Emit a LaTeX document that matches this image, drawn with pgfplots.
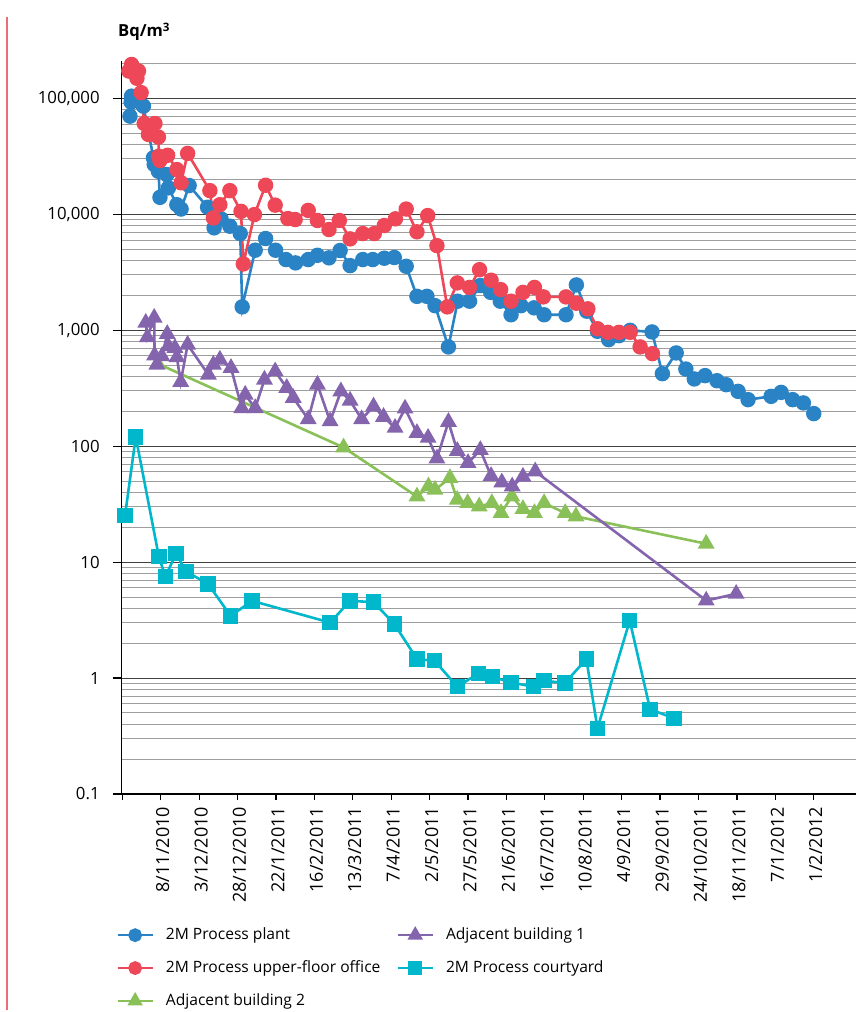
\documentclass[border=0pt]{standalone}
\usepackage{fontspec}
\setmainfont{Open Sans}
\usepackage{pgfplots}
\pgfplotsset{compat=1.18}
\definecolor{cblue}{RGB}{41,131,196}
\definecolor{cred}{RGB}{238,72,88}
\definecolor{cgreen}{RGB}{138,192,88}
\definecolor{cpurple}{RGB}{132,100,172}
\definecolor{ccyan}{RGB}{0,183,204}
\definecolor{cframe}{RGB}{234,110,120}

\pgfplotstableread{
x y
0.20 70200
0.23 92700
0.24 104500
0.55 85700
0.81 30700
0.83 26900
0.94 23500
0.98 14000
1.16 22000
1.20 16900
1.42 12100
1.53 11100
1.74 17700
2.22 11500
2.39 7640
2.57 9140
2.80 7890
3.07 6820
3.12 1590
3.46 4900
3.73 6180
3.99 4900
4.26 4070
4.51 3810
4.84 4070
5.08 4430
5.38 4210
5.67 4870
5.93 3610
6.26 4070
6.52 4070
6.82 4180
7.08 4240
7.39 3560
7.67 1960
7.93 1960
8.14 1630
8.49 718
8.73 1780
9.04 1780
9.32 2430
9.59 2120
9.84 1780
10.12 1360
10.38 1630
10.72 1560
10.98 1360
11.55 1360
11.82 2460
12.09 1460
12.37 979
12.66 830
12.93 898
13.22 998
13.79 967
14.06 422
14.42 637
14.67 463
14.89 380
15.17 406
15.48 367
15.72 339
16.03 297
16.29 252
16.89 269
17.15 291
17.45 252
17.73 236
18.00 191
}\plant

\pgfplotstableread{
x y
0.17 172000
0.24 196000
0.38 149000
0.42 172000
0.49 112000
0.57 60700
0.68 48800
0.85 60700
0.94 46300
0.95 31700
0.98 29100
1.18 32300
1.42 24300
1.53 18700
1.70 33500
2.28 16000
2.37 9310
2.54 12100
2.80 16000
3.09 10600
3.15 3730
3.44 9950
3.73 17800
3.98 12000
4.31 9190
4.50 9010
4.84 10800
5.08 8840
5.38 7390
5.65 8840
5.93 6140
6.26 6820
6.56 6820
6.82 8000
7.11 9140
7.39 11100
7.67 7060
7.95 9750
8.19 5370
8.46 1590
8.72 2560
9.04 2340
9.30 3330
9.60 2700
9.85 2240
10.12 1780
10.43 2120
10.73 2340
10.96 1940
11.55 1940
11.82 1710
12.12 1530
12.37 1030
12.64 959
12.93 959
13.22 959
13.48 718
13.80 628
}\office

\pgfplotstableread{
x y
0.61 1160
0.65 869
0.83 1280
0.84 607
0.90 505
1.03 596
1.17 929
1.20 727
1.37 704
1.42 584
1.52 358
1.70 751
2.24 414
2.37 505
2.54 557
2.83 473
3.11 213
3.20 278
3.46 213
3.70 375
3.98 442
4.28 318
4.45 261
4.84 171
5.08 339
5.41 164
5.69 297
5.93 247
6.23 171
6.54 220
6.80 179
7.10 144
7.36 211
7.67 130
7.96 118
8.19 78.3
8.49 162
8.72 91.0
9.00 71.6
9.32 92.7
9.60 55.3
9.88 48.7
10.15 45.0
10.43 54.5
10.75 60.6
15.20 4.66
15.98 5.33
}\bldgone

\pgfplotstableread{
x y
0.92 515
5.76 97.5
7.67 36.8
7.97 45.0
8.14 42.1
8.53 53.1
8.72 34.5
8.99 32.3
9.29 30.2
9.62 32.3
9.86 26.5
10.14 36.8
10.43 28.7
10.73 26.5
10.98 32.3
11.53 26.5
11.81 24.8
15.20 14.4
}\bldgtwo

\pgfplotstableread{
x y
0.07 25.1
0.35 120
0.95 11.2
1.12 7.51
1.40 11.8
1.66 8.30
2.23 6.50
2.82 3.44
3.38 4.63
5.41 3.01
5.93 4.63
6.54 4.52
7.08 2.93
7.67 1.46
8.13 1.41
8.72 0.843
9.28 1.10
9.63 1.03
10.12 0.914
10.71 0.843
10.98 0.951
11.52 0.904
12.08 1.46
12.37 0.369
13.21 3.13
13.74 0.538
14.36 0.450
}\courtyard

\begin{document}
\begin{tikzpicture}
\useasboundingbox (-60.85pt,-109pt) rectangle (367.15pt,397pt);
\draw[cframe, line width=0.8pt] (-57.35pt,-108pt) -- (-57.35pt,388.5pt);
\node[anchor=base west, inner sep=0pt, font=\bfseries\fontsize{8.3}{10}\selectfont] at (-2pt,378.5pt) {Bq/m\textsuperscript{3}};
\begin{axis}[
  at={(0pt,0pt)}, anchor=south west,
  scale only axis, width=367.15pt, height=366.5pt,
  xmin=-0.016, xmax=19.1,
  ymode=log, ymin=0.1, ymax=2.1e5,
  axis lines*=left,
  axis line style={black, line width=0.7pt},
  clip=false,
  ytick={0.1,1,10,100,1000,10000,100000},
  yticklabels={0.1,1,10,100,{1,000},{10,000},{100,000}},
  minor ytick={0.2,0.3,0.4,0.5,0.6,0.7,0.8,0.9,2,3,4,5,6,7,8,9,20,30,40,50,60,70,80,90,200,300,400,500,600,700,800,900,2000,3000,4000,5000,6000,7000,8000,9000,20000,30000,40000,50000,60000,70000,80000,90000,200000},
  xtick={0,1,...,18},
  xticklabels={,8/11/2010,3/12/2010,28/12/2010,22/1/2011,16/2/2011,13/3/2011,7/4/2011,2/5/2011,27/5/2011,21/6/2011,16/7/2011,10/8/2011,4/9/2011,29/9/2011,24/10/2011,18/11/2011,7/1/2012,1/2/2012},
  x tick label style={rotate=90, anchor=east, yshift=-1pt, font=\fontsize{9}{11}\selectfont},
  y tick label style={xshift=-4.5pt, font=\fontsize{8.4}{10}\selectfont},
  tick align=outside,
  major tick length=3pt,
  ytick style={/pgfplots/major tick length=4.2pt},
  minor tick length=0pt,
  tick style={black, line width=0.6pt},
  ymajorgrids, yminorgrids,
  major grid style={black!75, line width=0.5pt},
  minor grid style={black!38, line width=0.5pt},
  legend columns=2,
  legend cell align=left,
  legend style={at={(-0.016,-0.171)}, anchor=north west, draw=none, fill=none,
    font=\fontsize{7.8}{9.4}\selectfont, row sep=5pt,
    /tikz/every odd column/.append style={column sep=4pt},
    /tikz/every even column/.append style={column sep=6pt}},
  legend image code/.code={\draw[mark repeat=2,mark phase=2] plot coordinates {(0pt,0pt) (8.75pt,0pt) (17.5pt,0pt)};},
  every axis plot/.append style={line width=1.3pt},
]
\addlegendimage{cblue, mark=*, mark size=2.8pt, mark options={solid}}
\addlegendentry{2M Process plant}
\addlegendimage{cpurple, mark=triangle*, mark size=3.2pt}
\addlegendentry{Adjacent building 1}
\addlegendimage{cred, mark=*, mark size=2.8pt}
\addlegendentry{2M Process upper-floor office}
\addlegendimage{ccyan, mark=square*, mark size=2.8pt}
\addlegendentry{2M Process courtyard}
\addlegendimage{cgreen, mark=triangle*, mark size=3.2pt}
\addlegendentry{Adjacent building 2}

\addplot[cgreen, mark=triangle*, mark size=3.6pt, forget plot] table {\bldgtwo};
\addplot[cpurple, mark=triangle*, mark size=3.6pt, forget plot] table {\bldgone};
\addplot[ccyan, mark=square*, mark size=3.2pt, forget plot] table {\courtyard};
\addplot[cblue, mark=*, mark size=3.2pt, forget plot] table {\plant};
\addplot[cred, mark=*, mark size=3.2pt, forget plot] table {\office};
\end{axis}
\end{tikzpicture}
\end{document}
